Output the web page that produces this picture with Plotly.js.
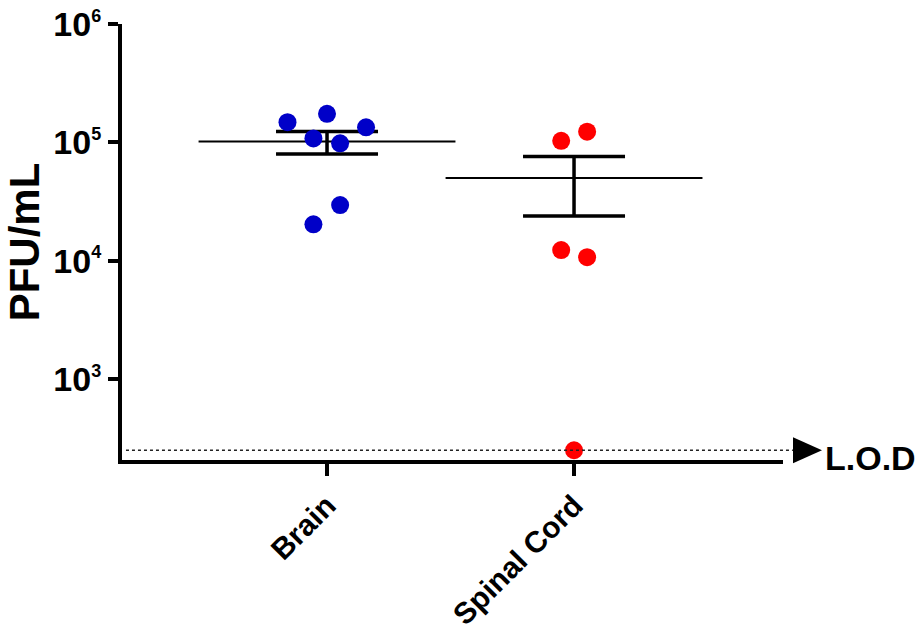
<!DOCTYPE html>
<html>
<head>
<meta charset="utf-8">
<script src="https://cdn.plot.ly/plotly-3.0.1.min.js"></script>
<style>
  html, body { margin: 0; padding: 0; background: #ffffff; }
  #chart { width: 924px; height: 630px; }
</style>
</head>
<body>
<div id="chart"></div>
<script>
// ---- data ----
const categories = ['Brain', 'Spinal Cord'];
const brainPFU = [148000, 174000, 108000, 98000, 134000, 29500, 20300];
const spinalPFU = [103000, 123000, 12300, 10700, 250];
const brainJitter = [-0.16, 0, -0.055, 0.053, 0.158, 0.053, -0.055];
const spinalJitter = [-0.052, 0.053, -0.052, 0.053, 0];
const LOD = 250;
const yTickVals = [1e3, 1e4, 1e5, 1e6];
const yTickText = ['10<sup><span style="font-size:18px">3</span></sup>',
                   '10<sup><span style="font-size:18px">4</span></sup>',
                   '10<sup><span style="font-size:18px">5</span></sup>',
                   '10<sup><span style="font-size:18px">6</span></sup>'];
const yTitle = 'PFU/mL';
const lodLabel = 'L.O.D';

// ---- derived statistics (mean +/- SEM) ----
function mean(a) { return a.reduce((s, v) => s + v, 0) / a.length; }
function sem(a) {
  const m = mean(a);
  const v = a.reduce((s, x) => s + (x - m) * (x - m), 0) / (a.length - 1);
  return Math.sqrt(v) / Math.sqrt(a.length);
}
const groups = [brainPFU, spinalPFU];
const jitters = [brainJitter, spinalJitter];
const colors = ['#0000C8', '#FF0000'];
const means = groups.map(mean);
const sems = groups.map(sem);

const FONT = 'Liberation Sans, Arial, Helvetica, sans-serif';
const halfW = 0.52;
const yRange = [2.3155, 6];

const traces = [];
// mean lines
groups.forEach((g, i) => {
  traces.push({
    type: 'scatter', mode: 'lines',
    x: [i - halfW, i + halfW], y: [means[i], means[i]],
    line: { color: '#000000', width: 2 },
    hoverinfo: 'skip', showlegend: false
  });
});
// SEM error bars
traces.push({
  type: 'scatter', mode: 'markers',
  x: categories.map((c, i) => i), y: means,
  marker: { size: 1, opacity: 0 },
  error_y: { type: 'data', symmetric: false, array: sems, arrayminus: sems,
             color: '#000000', thickness: 3.5, width: 51 },
  hoverinfo: 'skip', showlegend: false
});
// points
groups.forEach((g, i) => {
  traces.push({
    type: 'scatter', mode: 'markers',
    name: categories[i],
    x: g.map((v, k) => i + jitters[i][k]), y: g,
    marker: { color: colors[i], size: 18, line: { width: 0 } },
    cliponaxis: false, showlegend: false
  });
});

const yLOD = Math.log10(LOD);
const yLODPaper = (yLOD - yRange[0]) / (yRange[1] - yRange[0]);

const layout = {
  width: 924, height: 630,
  margin: { l: 122, r: 141, t: 24, b: 170 },
  paper_bgcolor: '#ffffff', plot_bgcolor: '#ffffff',
  showlegend: false,
  xaxis: {
    range: [-0.83, 1.846],
    tickvals: [0, 1], ticktext: categories,
    tickangle: -45,
    tickfont: { family: FONT, size: 30, color: '#000000', weight: 'bold' },
    showgrid: false, zeroline: false,
    showline: true, linecolor: '#000000', linewidth: 4,
    ticks: 'outside', ticklen: 12, tickwidth: 4, tickcolor: '#000000'
  },
  yaxis: {
    type: 'log',
    range: yRange,
    tickvals: yTickVals, ticktext: yTickText,
    tickfont: { family: FONT, size: 34, color: '#000000', weight: 'bold' },
    showgrid: false, zeroline: false,
    showline: true, linecolor: '#000000', linewidth: 4,
    ticks: 'outside', ticklen: 10, tickwidth: 4, tickcolor: '#000000',
    title: { text: yTitle, font: { family: FONT, size: 42, color: '#000000', weight: 'bold' }, standoff: 2 }
  },
  shapes: [
    { type: 'line', xref: 'paper', yref: 'paper', x0: 0.006, x1: 1.015,
      y0: yLODPaper, y1: yLODPaper, yshift: 0, layer: 'above',
      line: { color: '#222222', width: 1.3, dash: 'dot' } },
    { type: 'path', xref: 'paper', yref: 'paper', xsizemode: 'pixel', ysizemode: 'pixel',
      xanchor: 1.0, yanchor: yLODPaper, layer: 'above',
      path: 'M 10 -13 L 39 0 L 10 13 Z',
      fillcolor: '#000000', line: { width: 0 } }
  ],
  annotations: [
    { xref: 'paper', yref: 'paper', x: 1.061, y: yLODPaper, xanchor: 'left', yanchor: 'middle',
      yshift: -8, showarrow: false, text: lodLabel,
      font: { family: FONT, size: 34, color: '#000000', weight: 'bold' } }
  ]
};

Plotly.newPlot('chart', traces, layout, { staticPlot: true, displayModeBar: false });
</script>
</body>
</html>
